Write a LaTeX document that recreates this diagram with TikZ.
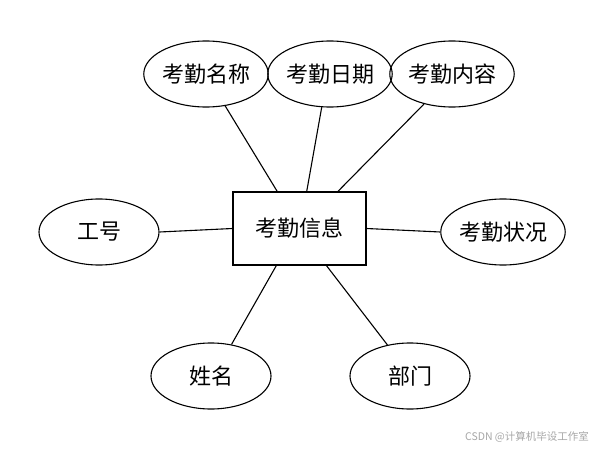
\documentclass[tikz,border=0pt]{standalone}
\usepackage{fontspec}
\usetikzlibrary{shapes.geometric}
\newfontfamily\cjk{Noto Sans CJK SC}
\tikzset{
  attr/.style={ellipse, draw, line width=1.1pt, minimum width=122pt, minimum height=66pt, inner sep=0pt, font=\cjk\fontsize{22}{26}\selectfont},
  ent/.style={rectangle, draw, line width=1.1pt, minimum width=133pt, minimum height=73pt, inner sep=0pt, font=\cjk\fontsize{22}{26}\selectfont},
  conn/.style={line width=1.1pt}
}
\begin{document}
\begin{tikzpicture}[x=1pt,y=-1pt]
\useasboundingbox (0,0) rectangle (602,449);
\node[ent] (e) at (299.5,228.5) {考勤信息};
\node[attr] (a1) at (206,74) {考勤名称};
\node[attr] (a2) at (330,74) {考勤日期};
\node[attr] (a3) at (452,74) {考勤内容};
\node[attr, minimum width=120pt] (a4) at (99,232) {工号};
\node[attr, minimum width=120pt] (a5) at (503,232) {考勤状况};
\node[attr, minimum width=120pt] (a6) at (211,376) {姓名};
\node[attr, minimum width=120pt] (a7) at (410,376) {部门};
\draw[conn] (a1.-59.5) -- (e.121.6);
\draw[conn] (a2.-104.8) -- (e.79.9);
\draw[conn] (a3.-133) -- (e.44.2);
\draw[conn] (a4.east) -- (e.west);
\draw[conn] (e.east) -- (a5.west);
\draw[conn] (a6.57.5) -- (e.-122.8);
\draw[conn] (a7.126.3) -- (e.-54);
\node[text=gray!70, font=\cjk\fontsize{10.5}{12}\selectfont] (wm) at (527,437) {CSDN @计算机毕设工作室};
\end{tikzpicture}
\end{document}
